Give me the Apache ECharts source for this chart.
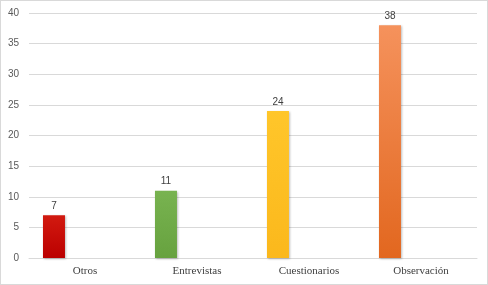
<!DOCTYPE html>
<html>
<head>
<meta charset="utf-8">
<script src="https://cdn.jsdelivr.net/npm/echarts@6/dist/echarts.min.js"></script>
<style>
  html, body { margin: 0; padding: 0; background: #fff; }
  #chart { width: 486px; height: 283px; border: 1px solid #d9d9d9; }
</style>
</head>
<body>
<div id="chart"></div>
<script>
const categories = ['Otros', 'Entrevistas', 'Cuestionarios', 'Observación'];
const values = [7, 11, 24, 38];
const colorsTop = ['#d21a10', '#78b350', '#ffc62a', '#f5925c'];
const colorsBottom = ['#bb0000', '#67a23f', '#fbb81c', '#e2671f'];
const yTicks = { min: 0, max: 40, interval: 5 };

const myChart = echarts.init(document.getElementById('chart'));

const barData = values.map((v, i) => ({
  value: v,
  itemStyle: {
    color: new echarts.graphic.LinearGradient(0, 0, 0, 1, [
      { offset: 0, color: colorsTop[i] },
      { offset: 1, color: colorsBottom[i] }
    ]),
    shadowColor: 'rgba(0,0,0,0.25)',
    shadowBlur: 2,
    shadowOffsetX: 1,
    shadowOffsetY: 1
  }
}));

myChart.setOption({
  animation: false,
  grid: { left: 28, right: 10, top: 12, bottom: 26 },
  xAxis: {
    type: 'category',
    data: categories,
    axisTick: { show: false },
    axisLine: { lineStyle: { color: '#d9d9d9' } },
    axisLabel: {
      color: '#404040',
      fontFamily: 'Liberation Serif',
      fontSize: 11,
      margin: 8
    }
  },
  yAxis: {
    type: 'value',
    min: yTicks.min,
    max: yTicks.max,
    interval: yTicks.interval,
    axisLine: { show: false },
    axisTick: { show: false },
    splitLine: { lineStyle: { color: '#d9d9d9' } },
    axisLabel: {
      color: '#595959',
      fontFamily: 'Liberation Sans',
      fontSize: 10,
      margin: 10
    }
  },
  series: [
    {
      type: 'bar',
      data: barData,
      barWidth: 22,
      barGap: '182%',
      label: {
        show: true,
        position: 'top',
        color: '#404040',
        fontFamily: 'Liberation Sans',
        fontSize: 10,
        distance: 4
      }
    },
    {
      type: 'bar',
      data: values.map(() => null),
      barWidth: 22
    }
  ]
});
</script>
</body>
</html>
